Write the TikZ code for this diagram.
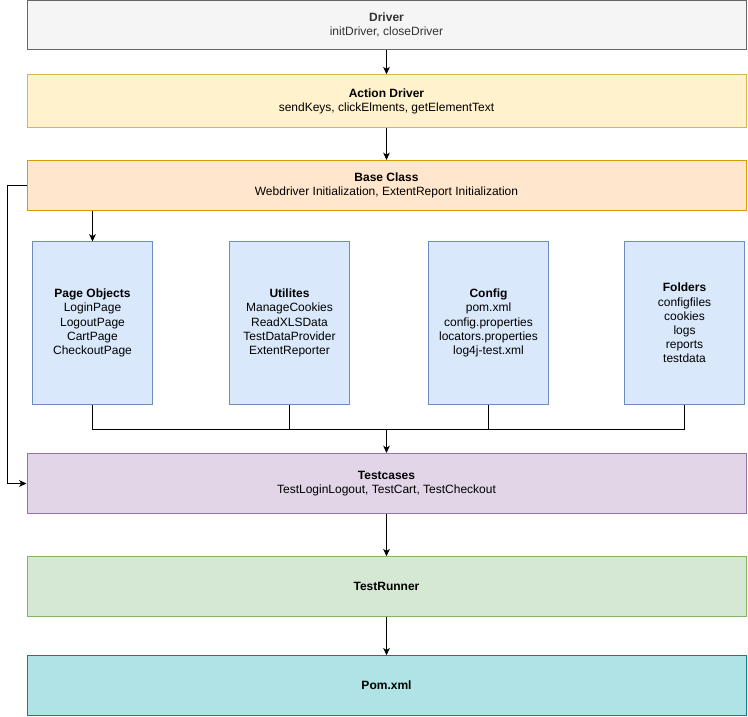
\documentclass[tikz,border=0pt]{standalone}
\usepackage{fontspec}
\setmainfont{Liberation Sans}
\usetikzlibrary{arrows.meta}
\definecolor{grayF}{HTML}{F5F5F5}\definecolor{grayD}{HTML}{666666}\definecolor{grayT}{HTML}{333333}
\definecolor{yelF}{HTML}{FFF2CC}\definecolor{yelD}{HTML}{D6B656}
\definecolor{orF}{HTML}{FFE6CC}\definecolor{orD}{HTML}{D79B00}
\definecolor{bluF}{HTML}{DAE8FC}\definecolor{bluD}{HTML}{6C8EBF}
\definecolor{purF}{HTML}{E1D5E7}\definecolor{purD}{HTML}{9673A6}
\definecolor{grnF}{HTML}{D5E8D4}\definecolor{grnD}{HTML}{82B366}
\definecolor{cyaF}{HTML}{B0E3E6}\definecolor{cyaD}{HTML}{0E8088}
\tikzset{
  box/.style={draw, align=center, inner sep=0pt, line width=0.75pt,
    font=\fontsize{9}{10.6}\selectfont},
  wide/.style={box, minimum width=719*0.75pt},
  col/.style={box, minimum width=120*0.75pt, minimum height=162*0.75pt, fill=bluF, draw=bluD},
  arr/.style={-{Stealth[length=5.5pt,width=5pt,inset=1.5pt]}, line width=0.75pt},
  wire/.style={line width=0.75pt}
}
\begin{document}
\begin{tikzpicture}[x=0.75pt,y=-0.75pt]
\useasboundingbox (0,0) rectangle (748,716);
\node[wide, minimum height=48.5*0.75pt, fill=grayF, draw=grayD, text=grayT] (drv) at (386.5,25)
  {\textbf{Driver}\\initDriver, closeDriver};
\node[wide, minimum height=52.5*0.75pt, fill=yelF, draw=yelD] (act) at (386.5,101)
  {\textbf{Action Driver}\\sendKeys, clickElments, getElementText};
\node[wide, minimum height=50*0.75pt, fill=orF, draw=orD] (base) at (386.5,185.5)
  {\textbf{Base Class}\\Webdriver Initialization, ExtentReport Initialization};
\node[col] (po) at (92.5,323) {\textbf{Page Objects}\\LoginPage\\LogoutPage\\CartPage\\CheckoutPage};
\node[col] (ut) at (289.5,323) {\textbf{Utilites}\\ManageCookies\\ReadXLSData\\TestDataProvider\\ExtentReporter};
\node[col] (cf) at (488.5,323) {\textbf{Config}\\pom.xml\\config.properties\\locators.properties\\log4j-test.xml};
\node[col] (fo) at (684.5,323) {\textbf{Folders}\\configfiles\\cookies\\logs\\reports\\testdata};
\node[wide, minimum height=60*0.75pt, fill=purF, draw=purD] (tc) at (386.5,483.5)
  {\textbf{Testcases}\\TestLoginLogout, TestCart, TestCheckout};
\node[wide, minimum height=59.5*0.75pt, fill=grnF, draw=grnD] (tr) at (386.5,586.5)
  {\textbf{TestRunner}};
\node[wide, minimum height=59.5*0.75pt, fill=cyaF, draw=cyaD] (pom) at (386.5,685.5)
  {\textbf{Pom.xml}};
\coordinate (bus) at (386.5,429);
\draw[arr] (drv.south) -- (act.north);
\draw[arr] (act.south) -- (base.north);
\draw[arr] (po.north |- base.south) -- (po.north);
\draw[arr] (base.west) -- ++(-19.5,0) |- (tc.west);
\draw[wire] (po.south) |- (bus);
\draw[wire] (ut.south) |- (bus);
\draw[wire] (cf.south) |- (bus);
\draw[wire] (fo.south) |- (bus);
\draw[arr] (bus) -- (tc.north);
\draw[arr] (tc.south) -- (tr.north);
\draw[arr] (tr.south) -- (pom.north);
\end{tikzpicture}
\end{document}
